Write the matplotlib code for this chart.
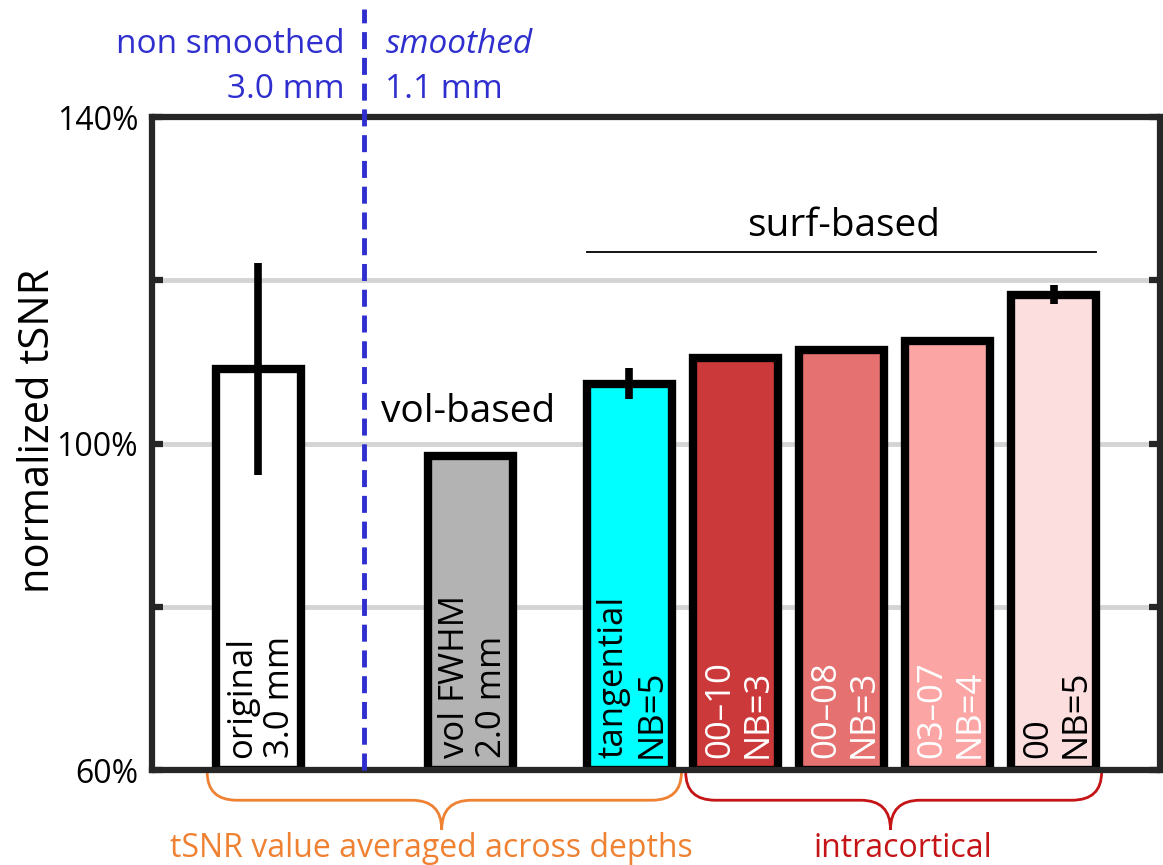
import matplotlib
matplotlib.use("Agg")
import matplotlib.pyplot as plt
from matplotlib.path import Path
from matplotlib.patches import PathPatch

plt.rcParams['font.family'] = ['Open Sans', 'DejaVu Sans']

# ---- data -------------------------------------------------------------
labels = ["original\n3.0 mm", "vol FWHM\n2.0 mm", "tangential\nNB=5",
          "00\u201310\nNB=3", "00\u201308\nNB=3", "03\u201307\nNB=4", "00\nNB=5"]
positions = [0, 2, 3.5, 4.5, 5.5, 6.5, 7.5]
values = [109.1, 98.5, 107.35, 110.5, 111.45, 112.55, 118.25]
errors = [13.0, 0, 1.85, 0, 0, 0, 1.2]
bar_colors = ["#ffffff", "#b3b3b3", "#00ffff", "#cc393a", "#e57171", "#fba5a5", "#fddede"]
text_colors = ["black", "black", "black", "white", "white", "white", "black"]
ytick_vals = [60, 80, 100, 120, 140]
ytick_labels = ["60%", "", "100%", "", "140%"]

BLUE = "#2f2fcf"
ORANGE = "#ef8133"
RED = "#c41416"

fig = plt.figure(figsize=(11.63, 8.65), dpi=100)
ax = fig.add_axes([0.1307, 0.1098, 0.8667, 0.7549])

ax.set_xlim(-1, 8.5)
ax.set_ylim(60, 140)

# grid lines
for g in [80, 100, 120]:
    ax.axhline(g, color="#d4d4d4", lw=3.5, zorder=0)

ax.bar(positions, [v - 60 for v in values], bottom=60, width=0.8,
       color=bar_colors, edgecolor="black", linewidth=6, zorder=2)

for x, v, e in zip(positions, values, errors):
    if e > 0:
        ax.plot([x, x], [v - e, v + e], color="black", lw=5.5,
                solid_capstyle="butt", zorder=3)

for x, lab, tc in zip(positions, labels, text_colors):
    ax.text(x + 0.03, 61.5, lab, rotation=90, ha="center", va="bottom",
            multialignment="left", fontsize=25, color=tc, zorder=4,
            linespacing=1.15)

# axes styling
for s in ax.spines.values():
    s.set_linewidth(4.5)
    s.set_color("#262626")
    s.set_zorder(5)
ax.set_xticks([])
ax.set_yticks(ytick_vals)
ax.set_yticklabels(ytick_labels, fontsize=23)
ax.tick_params(axis="y", direction="in", length=8, width=4.5, color="#262626",
               right=True, pad=10)
ax.set_ylabel("normalized tSNR", fontsize=30, labelpad=4)
ax.yaxis.set_label_coords(-0.092, 0.52)

# smoothing divider
ax.plot([1, 1], [60, 153.2], color=BLUE, lw=3.5, ls=(0, (3.5, 1.8)),
        clip_on=False, zorder=6)
ax.text(0.82, 148.9, "non smoothed", ha="right", va="center", fontsize=24, color=BLUE)
ax.text(0.82, 143.4, "3.0 mm", ha="right", va="center", fontsize=24, color=BLUE)
ax.text(1.2, 148.9, "smoothed", ha="left", va="center", fontsize=24,
        color=BLUE, style="italic")
ax.text(1.2, 143.4, "1.1 mm", ha="left", va="center", fontsize=24, color=BLUE)

# group annotations
ax.text(1.98, 103.9, "vol-based", ha="center", va="center", fontsize=28)
ax.plot([3.1, 7.9], [123.5, 123.5], color="black", lw=1.3)
ax.text(5.52, 126.6, "surf-based", ha="center", va="center", fontsize=28)


def brace(x0, x1, xt, ytop, ymid, ytip, r, color):
    verts = [(x0, ytop), (x0, ymid), (x0 + r, ymid),
             (xt - r, ymid), (xt, ymid), (xt, ytip),
             (xt, ymid), (xt + r, ymid),
             (x1 - r, ymid), (x1, ymid), (x1, ytop)]
    codes = [Path.MOVETO, Path.CURVE3, Path.CURVE3,
             Path.LINETO, Path.CURVE3, Path.CURVE3,
             Path.CURVE3, Path.CURVE3,
             Path.LINETO, Path.CURVE3, Path.CURVE3]
    patch = PathPatch(Path(verts, codes), facecolor="none", edgecolor=color,
                      lw=2, clip_on=False)
    ax.add_patch(patch)


brace(-0.48, 3.99, 1.73, 59.75, 56.3, 52.7, 0.28, ORANGE)
brace(4.03, 7.95, 5.96, 59.75, 56.3, 52.7, 0.28, RED)
ax.text(1.63, 50.4, "tSNR value averaged across depths", ha="center", va="center",
        fontsize=23, color=ORANGE, clip_on=False)
ax.text(6.08, 50.4, "intracortical", ha="center", va="center",
        fontsize=23, color=RED, clip_on=False)

fig.savefig("out.png", dpi=100)
